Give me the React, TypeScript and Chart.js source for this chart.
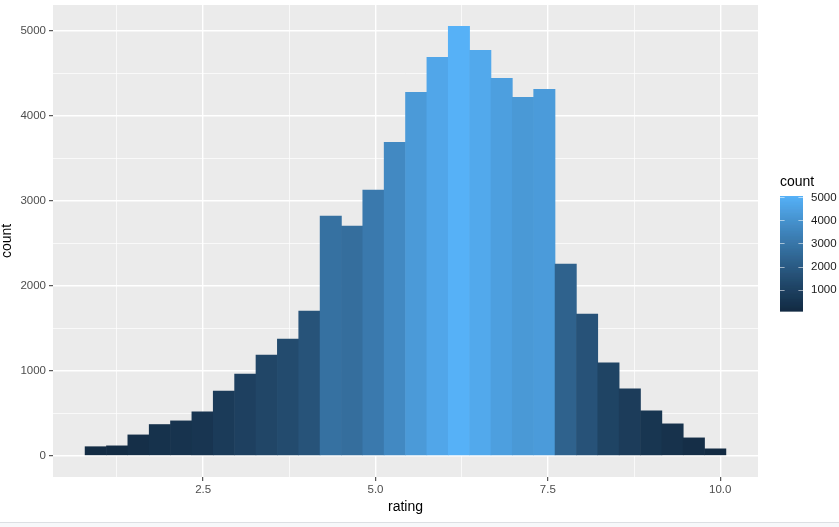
import React, { useEffect, useRef } from "react";
import { Chart, registerables } from "chart.js";

Chart.register(...registerables);

// Histogram bin centres (rating) and counts
const binCenters = [
  0.942, 1.252, 1.562, 1.872, 2.181, 2.491, 2.801, 3.111, 3.421, 3.731,
  4.041, 4.351, 4.660, 4.970, 5.280, 5.590, 5.900, 6.210, 6.520, 6.830,
  7.139, 7.449, 7.759, 8.069, 8.379, 8.689, 8.999, 9.309, 9.618, 9.928,
];
const counts = [
  104, 114, 243, 365, 408, 514, 760, 960, 1183, 1371,
  1700, 2817, 2700, 3123, 3687, 4275, 4686, 5050, 4768, 4439,
  4216, 4310, 2253, 1666, 1090, 784, 525, 373, 208, 79,
];
const xMajorTicks = [2.5, 5.0, 7.5, 10.0];
const xMinorTicks = [1.25, 3.75, 6.25, 8.75];
const yMajorTicks = [0, 1000, 2000, 3000, 4000, 5000];
const yMinorTicks = [500, 1500, 2500, 3500, 4500];
const legendTicks = [1000, 2000, 3000, 4000, 5000];
const lowColor = "#132B43";
const highColor = "#56B1F7";

// --- Lab colour interpolation (ggplot2 seq gradient) ---
function hexToRgb(h: string) {
  const n = parseInt(h.slice(1), 16);
  return [(n >> 16) & 255, (n >> 8) & 255, n & 255];
}
function toLin(c: number) {
  c /= 255;
  return c <= 0.04045 ? c / 12.92 : Math.pow((c + 0.055) / 1.055, 2.4);
}
function fromLin(c: number) {
  const v = c <= 0.0031308 ? 12.92 * c : 1.055 * Math.pow(c, 1 / 2.4) - 0.055;
  return Math.max(0, Math.min(255, Math.round(v * 255)));
}
const Xn = 0.95047, Yn = 1.0, Zn = 1.08883;
function f(t: number) {
  return t > 0.008856 ? Math.cbrt(t) : 7.787 * t + 16 / 116;
}
function finv(t: number) {
  return t > 0.206893 ? t * t * t : (t - 16 / 116) / 7.787;
}
function rgbToLab(rgb: number[]) {
  const r = toLin(rgb[0]), g = toLin(rgb[1]), b = toLin(rgb[2]);
  const X = 0.4124564 * r + 0.3575761 * g + 0.1804375 * b;
  const Y = 0.2126729 * r + 0.7151522 * g + 0.072175 * b;
  const Z = 0.0193339 * r + 0.119192 * g + 0.9503041 * b;
  const fx = f(X / Xn), fy = f(Y / Yn), fz = f(Z / Zn);
  return [116 * fy - 16, 500 * (fx - fy), 200 * (fy - fz)];
}
function labToRgb(lab: number[]) {
  const fy = (lab[0] + 16) / 116;
  const fx = fy + lab[1] / 500;
  const fz = fy - lab[2] / 200;
  const X = finv(fx) * Xn, Y = finv(fy) * Yn, Z = finv(fz) * Zn;
  const r = 3.2404542 * X - 1.5371385 * Y - 0.4985314 * Z;
  const g = -0.969266 * X + 1.8760108 * Y + 0.041556 * Z;
  const b = 0.0556434 * X - 0.2040259 * Y + 1.0572252 * Z;
  return `rgb(${fromLin(r)},${fromLin(g)},${fromLin(b)})`;
}
const labLow = rgbToLab(hexToRgb(lowColor));
const labHigh = rgbToLab(hexToRgb(highColor));
const cMin = Math.min(...counts);
const cMax = Math.max(...counts);
function colorFor(v: number) {
  const t = Math.max(0, Math.min(1, (v - cMin) / (cMax - cMin)));
  return labToRgb([0, 1, 2].map((i) => labLow[i] + (labHigh[i] - labLow[i]) * t));
}

const FONT = "'Liberation Sans', Arial, Helvetica, sans-serif";

const decorPlugin = {
  id: "ggdecor",
  beforeDraw(chart: any) {
    const { ctx, chartArea } = chart;
    ctx.save();
    ctx.fillStyle = "#EBEBEB";
    ctx.fillRect(chartArea.left, chartArea.top, chartArea.right - chartArea.left, chartArea.bottom - chartArea.top);
    ctx.restore();
  },
  afterDraw(chart: any) {
    const { ctx, chartArea } = chart;
    ctx.save();
    // axis titles
    ctx.fillStyle = "#000000";
    ctx.font = `14px ${FONT}`;
    ctx.textAlign = "center";
    ctx.textBaseline = "middle";
    ctx.fillText("rating", (chartArea.left + chartArea.right) / 2, 507);
    ctx.save();
    ctx.translate(7, (chartArea.top + chartArea.bottom) / 2);
    ctx.rotate(-Math.PI / 2);
    ctx.fillText("count", 0, 0);
    ctx.restore();

    // legend colourbar
    const bx = 780, bw = 23, bTop = 196, bBot = 311;
    ctx.textAlign = "left";
    ctx.fillText("count", bx, 182);
    const steps = 230;
    for (let i = 0; i < steps; i++) {
      const v = cMin + ((cMax - cMin) * (i + 0.5)) / steps;
      const y0 = bBot - ((bBot - bTop) * (i + 1)) / steps;
      ctx.fillStyle = colorFor(v);
      ctx.fillRect(bx, y0, bw, (bBot - bTop) / steps + 0.6);
    }
    const vy = (v: number) => bBot - ((v - cMin) / (cMax - cMin)) * (bBot - bTop);
    ctx.strokeStyle = "rgba(255,255,255,0.55)";
    ctx.lineWidth = 1;
    ctx.font = `11.5px ${FONT}`;
    ctx.fillStyle = "#1A1A1A";
    for (const t of legendTicks) {
      const y = Math.round(vy(t)) + 0.5;
      ctx.beginPath();
      ctx.moveTo(bx, y);
      ctx.lineTo(bx + 4.6, y);
      ctx.moveTo(bx + bw - 4.6, y);
      ctx.lineTo(bx + bw, y);
      ctx.stroke();
      ctx.fillText(String(t), bx + bw + 8, vy(t) + 0.5);
    }
    ctx.restore();
  },
};

export default function App() {
  const ref = useRef<HTMLCanvasElement | null>(null);
  useEffect(() => {
    document.body.style.margin = "0";
    if (!ref.current) return;
    const isMajorY = (v: number) => yMajorTicks.includes(v);
    const isMajorX = (v: number) => xMajorTicks.includes(v);
    const chart = new Chart(ref.current, {
      type: "bar",
      data: {
        datasets: [
          {
            data: binCenters.map((x, i) => ({ x, y: counts[i] })),
            backgroundColor: counts.map((c) => colorFor(c)),
            borderWidth: 0,
            barPercentage: 1,
            categoryPercentage: 1,
            grouped: false,
          } as any,
        ],
      },
      options: {
        animation: false,
        responsive: true,
        maintainAspectRatio: false,
        layout: { padding: { left: 0, right: 81, top: 5, bottom: 0 } },
        plugins: { legend: { display: false }, tooltip: { enabled: false } },
        scales: {
          x: {
            type: "linear",
            min: 0.322,
            max: 10.548,
            offset: false,
            afterFit: (s: any) => {
              s.height = 45;
              s.paddingLeft = 0;
              s.paddingRight = 0;
            },
            afterBuildTicks: (s: any) => {
              s.ticks = [...xMinorTicks, ...xMajorTicks].sort((a, b) => a - b).map((v) => ({ value: v }));
            },
            border: { display: false },
            grid: {
              offset: false,
              color: "#FFFFFF",
              lineWidth: (c: any) => (isMajorX(c.tick?.value) ? 1.4 : 0.7),
              tickColor: (c: any) => (isMajorX(c.tick?.value) ? "#333333" : "rgba(0,0,0,0)"),
              tickWidth: 1,
              tickLength: 4,
            },
            ticks: {
              autoSkip: false,
              maxRotation: 0,
              padding: 2,
              color: "#4D4D4D",
              font: { family: FONT, size: 11.5 },
              callback: (v: any) => (isMajorX(Number(v)) ? Number(v).toFixed(1) : ""),
            },
          },
          y: {
            type: "linear",
            min: -252.5,
            max: 5302.5,
            afterFit: (s: any) => {
              s.width = 53;
              s.paddingTop = 0;
              s.paddingBottom = 0;
            },
            afterBuildTicks: (s: any) => {
              s.ticks = [...yMajorTicks, ...yMinorTicks].sort((a, b) => a - b).map((v) => ({ value: v }));
            },
            border: { display: false },
            grid: {
              color: "#FFFFFF",
              lineWidth: (c: any) => (isMajorY(c.tick?.value) ? 1.4 : 0.7),
              tickColor: (c: any) => (isMajorY(c.tick?.value) ? "#333333" : "rgba(0,0,0,0)"),
              tickWidth: 1,
              tickLength: 4,
            },
            ticks: {
              autoSkip: false,
              padding: 3,
              color: "#4D4D4D",
              font: { family: FONT, size: 11.5 },
              callback: (v: any) => (isMajorY(Number(v)) ? String(v) : ""),
            },
          },
        },
      },
      plugins: [decorPlugin],
    } as any);
    return () => chart.destroy();
  }, []);
  return (
    <div style={{ width: 839, height: 527, position: "relative", background: "#FFFFFF", overflow: "hidden" }}>
      <div style={{ width: 839, height: 522, position: "relative" }}>
        <canvas ref={ref} />
      </div>
      <div style={{ width: 839, height: 4, borderTop: "1px solid #DCDFE3", background: "#F7F8FA" }} />
    </div>
  );
}
